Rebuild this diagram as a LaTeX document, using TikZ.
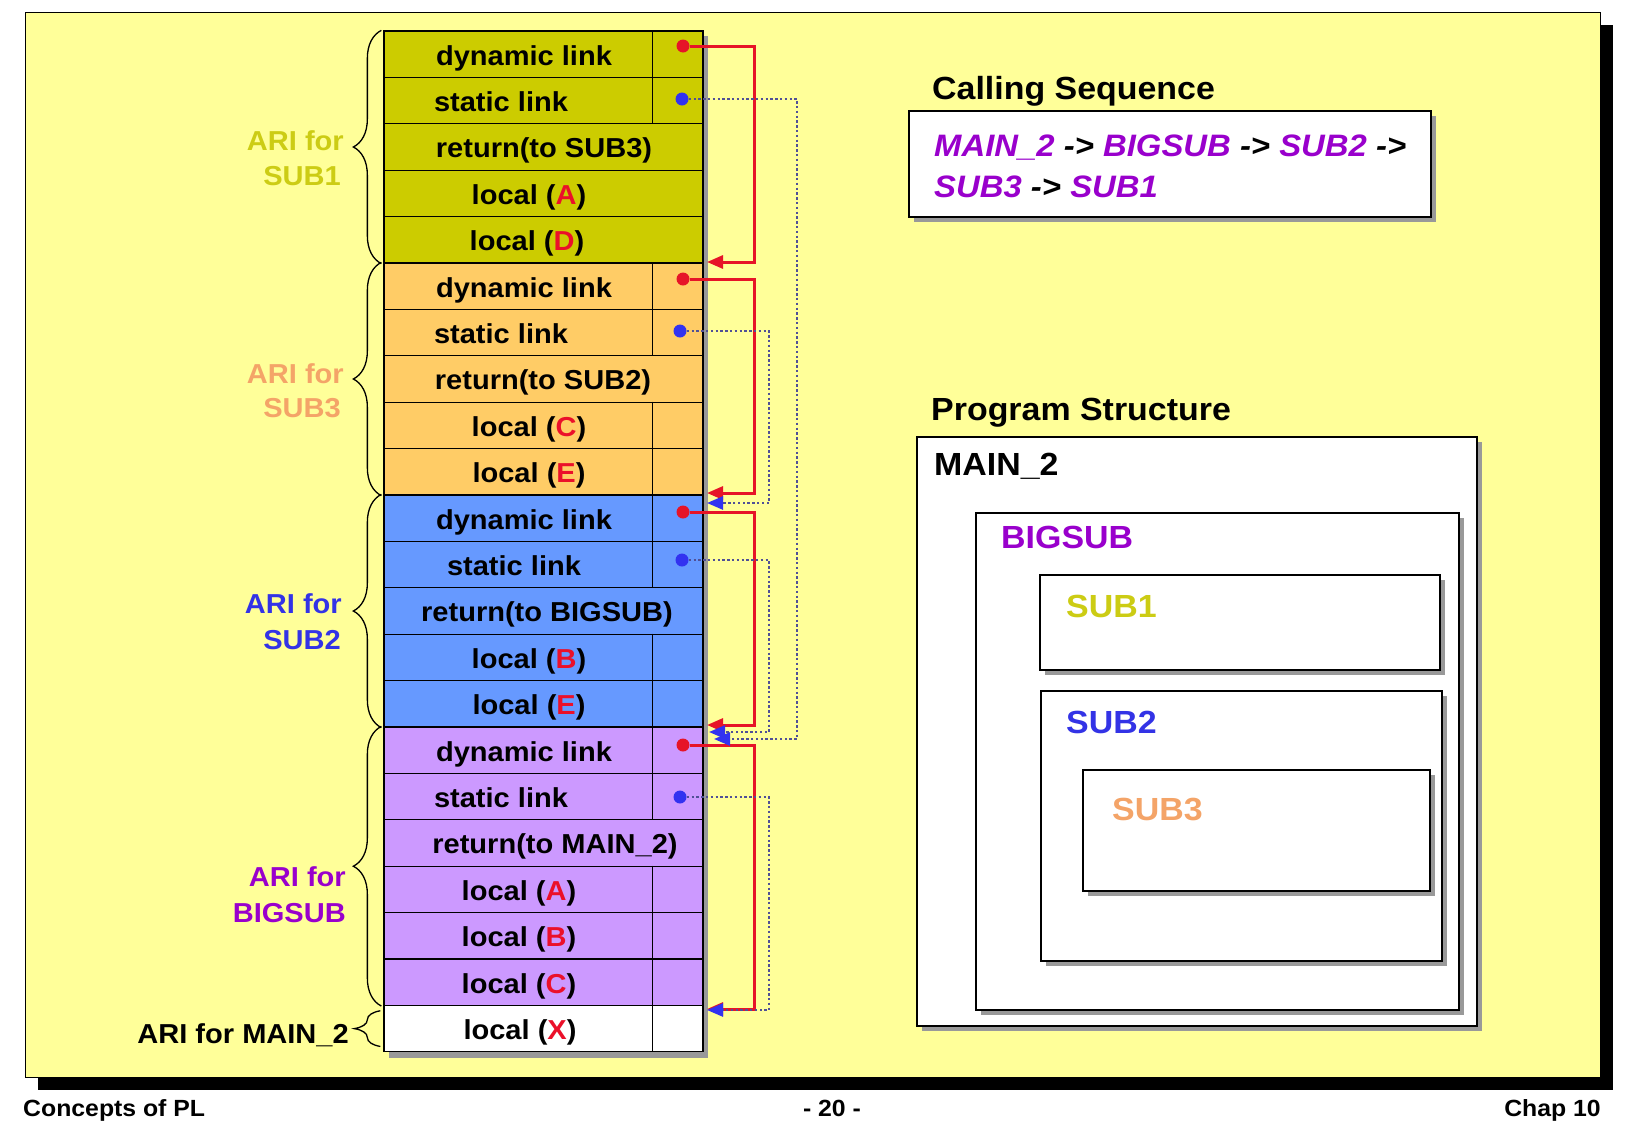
\documentclass[tikz,border=0pt]{standalone}
\usepackage{fontspec}
\setmainfont{Liberation Sans}[FakeStretch=1.06]
\usetikzlibrary{positioning,arrows.meta,decorations.pathreplacing,shadows}
\definecolor{pageyellow}{RGB}{255,255,153}
\definecolor{subone}{RGB}{204,204,0}
\definecolor{subthree}{RGB}{255,204,102}
\definecolor{subtwo}{RGB}{102,153,255}
\definecolor{bigsub}{RGB}{204,153,255}
\definecolor{suboneink}{RGB}{204,204,20}
\definecolor{subthreeink}{RGB}{244,164,104}
\definecolor{subtwoink}{RGB}{51,51,230}
\definecolor{bigsubink}{RGB}{153,0,204}
\definecolor{letterred}{RGB}{235,16,42}
\definecolor{linkred}{RGB}{230,20,40}
\definecolor{dotblue}{RGB}{50,50,240}
\definecolor{linkgrey}{RGB}{80,80,150}
\newcommand{\tabfont}{\bfseries\fontsize{27.4}{32}\selectfont}
\newcommand{\headfont}{\bfseries\fontsize{32}{38}\selectfont}
\newcommand{\seqfont}{\bfseries\fontsize{31}{38}\selectfont}
\newcommand{\footfont}{\bfseries\fontsize{23.4}{28}\selectfont}
\newcommand{\redvar}[1]{\textcolor{letterred}{#1}}
\newcommand{\callee}[1]{\textcolor{bigsubink}{\itshape #1}}
\begin{document}
\begin{tikzpicture}[x=1pt,y=-1pt,
    every node/.style={inner sep=0pt},
    arirow/.style={draw=black,line width=1.3pt,minimum width=319pt,minimum height=46.4pt},
    rowtext/.style={anchor=base,font=\tabfont},
    arilabel/.style={anchor=base east,font=\tabfont},
    aribrace/.style={decorate,decoration={brace,amplitude=28pt},line width=1.3pt},
    reddot/.style={circle,fill=linkred,minimum size=13pt},
    bluedot/.style={circle,fill=dotblue,minimum size=13pt},
    dynlink/.style={draw=linkred,line width=3pt,-{Triangle[length=16pt,width=13pt]}},
    statlink/.style={draw=linkgrey,line width=2.6pt,dash pattern=on 2.4pt off 2.4pt,
        -{Triangle[length=16pt,width=13pt,color=dotblue]}},
    pbox/.style={draw=black,fill=white,line width=1.3pt,
        drop shadow={shadow xshift=5pt,shadow yshift=-5pt,fill=black!40,opacity=1}},
    ptitle/.style={anchor=base west,font=\headfont}]
\useasboundingbox (0,0) rectangle (1625,1125);
% slide panel
\fill[black] (38,25) rectangle (1613,1090);
\draw[fill=pageyellow,line width=1pt] (25,12) rectangle (1600,1077);
% run-time stack
\fill[black!40] (389,36) rectangle (708,1058);
\coordinate (divx) at (652,0);
\foreach \i/\f/\x/\d/\t in {
    0/subone/524/1/dynamic link, 1/subone/501/1/static link,
    2/subone/544/0/return(to SUB3), 3/subone/529/0/local (\redvar{A}),
    4/subone/527/0/local (\redvar{D}),
    5/subthree/524/1/dynamic link, 6/subthree/501/1/static link,
    7/subthree/543/0/return(to SUB2), 8/subthree/529/1/local (\redvar{C}),
    9/subthree/529/1/local (\redvar{E}),
    10/subtwo/524/1/dynamic link, 11/subtwo/514/1/static link,
    12/subtwo/547/0/return(to BIGSUB), 13/subtwo/529/1/local (\redvar{B}),
    14/subtwo/529/1/local (\redvar{E}),
    15/bigsub/524/1/dynamic link, 16/bigsub/501/1/static link,
    17/bigsub/555/0/return(to MAIN\_2), 18/bigsub/519/1/local (\redvar{A}),
    19/bigsub/519/1/local (\redvar{B}), 20/bigsub/519/1/local (\redvar{C}),
    21/white/520/1/local (\redvar{X})}{
  \node[arirow,fill=\f] (r\i) at (543.5,{54.2+46.4*\i}) {};
  \ifnum\d=1 \draw[line width=1pt] (r\i.north -| divx) -- (r\i.south -| divx); \fi
  \node[rowtext] (rt\i) at (\x,{65+46.4*\i}) {\t};
}
% braces and ARI labels
\draw[aribrace] ([xshift=-2pt]r4.south west) -- ([xshift=-2pt]r0.north west);
\draw[aribrace] ([xshift=-2pt]r9.south west) -- ([xshift=-2pt]r5.north west);
\draw[aribrace] ([xshift=-2pt]r14.south west) -- ([xshift=-2pt]r10.north west);
\draw[aribrace] ([xshift=-2pt]r20.south west) -- ([xshift=-2pt]r15.north west);
\draw[aribrace,decoration={amplitude=26pt}] ([xshift=-3pt,yshift=6pt]r21.south west) -- ([xshift=-3pt,yshift=-6pt]r21.north west);
\node[arilabel,text=suboneink] (la1) at (344,150) {ARI for};
\node[arilabel,text=suboneink] (lb1) at (341,185) {SUB1};
\node[arilabel,text=subthreeink] (la3) at (344,383) {ARI for};
\node[arilabel,text=subthreeink] (lb3) at (341,417) {SUB3};
\node[arilabel,text=subtwoink] (la2) at (342,613) {ARI for};
\node[arilabel,text=subtwoink] (lb2) at (341,649) {SUB2};
\node[arilabel,text=bigsubink] (lab) at (346,886) {ARI for};
\node[arilabel,text=bigsubink] (lbb) at (346,922) {BIGSUB};
\node[arilabel] (lm) at (349,1043) {ARI for MAIN\_2};
% dynamic links
\coordinate (dx) at (754,0);
\node[reddot] (dl1) at (683,46) {};
\node[reddot] (dl2) at (683,279) {};
\node[reddot] (dl3) at (683,512) {};
\node[reddot] (dl4) at (683,745) {};
\coordinate (dt1) at (707,262);
\coordinate (dt2) at (707,493);
\coordinate (dt3) at (707,725);
\coordinate (dt4) at (707,1009);
\draw[dynlink] (dl1) -- (dl1 -| dx) |- (dt1);
\draw[dynlink] (dl2) -- (dl2 -| dx) |- (dt2);
\draw[dynlink] (dl3) -- (dl3 -| dx) |- (dt3);
\draw[dynlink] (dl4) -- (dl4 -| dx) |- (dt4);
% static links
\coordinate (sxi) at (769,0);
\coordinate (sxo) at (797,0);
\node[bluedot] (sl1) at (682,99) {};
\node[bluedot] (sl2) at (680,331) {};
\node[bluedot] (sl3) at (682,560) {};
\node[bluedot] (sl4) at (680,797) {};
\coordinate (st1) at (714,739);
\coordinate (st2) at (707,503);
\coordinate (st3) at (709,732);
\coordinate (st4) at (707,1010);
\draw[statlink] (sl1) -- (sl1 -| sxo) |- (st1);
\draw[statlink] (sl2) -- (sl2 -| sxi) |- (st2);
\draw[statlink] (sl3) -- (sl3 -| sxi) |- (st3);
\draw[statlink] (sl4) -- (sl4 -| sxi) |- (st4);
% calling sequence
\node[ptitle] (cs) at (932,99) {Calling Sequence};
\draw[pbox] (909,111) rectangle (1431,217);
\node[anchor=base west,font=\seqfont] (seq1) at (934,156)
  {\callee{MAIN\_2} \textit{->} \callee{BIGSUB} \textit{->} \callee{SUB2} \textit{->}};
\node[anchor=base west,font=\seqfont] (seq2) at (934,197)
  {\callee{SUB3} \textit{->} \callee{SUB1}};
% program structure
\node[ptitle] (ps) at (931,420) {Program Structure};
\draw[pbox] (917,437) rectangle (1477,1026);
\draw[pbox] (976,513) rectangle (1459,1010);
\draw[pbox] (1040,575) rectangle (1440,670);
\draw[pbox] (1041,691) rectangle (1442,961);
\draw[pbox] (1083,770) rectangle (1430,891);
\node[ptitle] (pm) at (934,475) {MAIN\_2};
\node[ptitle,text=bigsubink] (pb) at (1001,548) {BIGSUB};
\node[ptitle,text=suboneink] (p1) at (1066,617) {SUB1};
\node[ptitle,text=subtwoink] (p2) at (1066,733) {SUB2};
\node[ptitle,text=subthreeink] (p3) at (1112,820) {SUB3};
% footer
\node[anchor=base west,font=\footfont] (fl) at (23,1116) {Concepts of PL};
\node[anchor=base,font=\footfont] (fc) at (832,1116) {- 20 -};
\node[anchor=base east,font=\footfont] (fr) at (1601,1116) {Chap 10};
\end{tikzpicture}
\end{document}
